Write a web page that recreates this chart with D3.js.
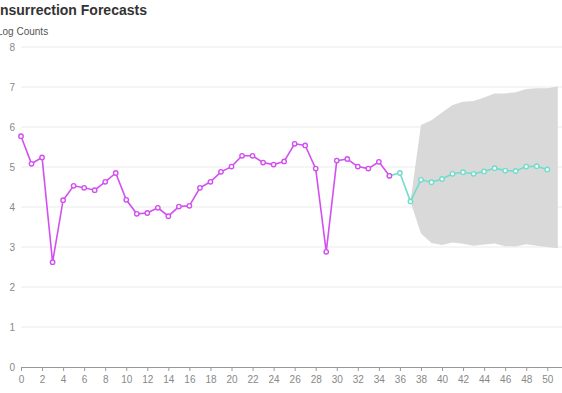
<!DOCTYPE html>
<html>
<head>
<meta charset="utf-8">
<script src="https://cdn.jsdelivr.net/npm/d3@7"></script>
<style>
  body { margin: 0; background: #fff; }
  svg { display: block; font-family: "Liberation Sans", Arial, sans-serif; }
</style>
</head>
<body>
<div id="chart"></div>
<script>
// observed log counts, x = 0..35
const histX = d3.range(0, 36);
const histY = [5.77, 5.08, 5.24, 2.62, 4.17, 4.53, 4.48, 4.42, 4.63, 4.85,
               4.18, 3.83, 3.85, 3.98, 3.77, 4.01, 4.03, 4.48, 4.63, 4.88,
               5.01, 5.28, 5.28, 5.11, 5.06, 5.14, 5.58, 5.54, 4.96, 2.88,
               5.16, 5.20, 5.01, 4.96, 5.13, 4.78];

// forecast, starting from the last observed point
const fcX = d3.range(35, 51);
const fcY = [4.78, 4.85, 4.14, 4.68, 4.62, 4.70, 4.83, 4.87, 4.83, 4.89,
             4.97, 4.91, 4.90, 5.01, 5.02, 4.94];

// forecast band
const bandX = d3.range(37, 52);
const bandLow = [4.14, 3.34, 3.10, 3.05, 3.11, 3.08, 3.03, 3.06, 3.09, 3.02,
                 3.01, 3.07, 3.03, 3.00, 2.97];
const bandHigh = [4.14, 6.05, 6.17, 6.36, 6.55, 6.63, 6.65, 6.74, 6.84, 6.84,
                  6.87, 6.95, 6.97, 6.97, 7.01];

const yTicks = [0, 1, 2, 3, 4, 5, 6, 7, 8];
const xTicks = d3.range(0, 51, 2);

const width = 562, height = 393;
const svg = d3.select("#chart").append("svg")
    .attr("width", width)
    .attr("height", height);

let x = d3.scaleLinear().domain([0, 51.4]).range([21, 562]);
let y = d3.scaleLinear().domain([0, 8]).range([367, 47]);

// title + axis name
svg.append("text")
    .attr("x", -4).attr("y", 15)
    .style("font-size", "14px").style("font-weight", "bold")
    .attr("fill", "#333")
    .text("Insurrection Forecasts");
svg.append("text")
    .attr("x", -3).attr("y", 35)
    .style("font-size", "10px")
    .attr("fill", "#555")
    .text("Log Counts");

// grid lines
svg.append("g").selectAll("line")
    .data(yTicks.filter(d => d > 0))
    .enter().append("line")
    .attr("x1", x(0)).attr("x2", width)
    .attr("y1", d => y(d)).attr("y2", d => y(d))
    .attr("stroke", "#ebebeb");

svg.append("g").selectAll("text")
    .data(yTicks)
    .enter().append("text")
    .attr("x", 15).attr("y", d => y(d) + 3.5)
    .attr("text-anchor", "end")
    .style("font-size", "10px")
    .attr("fill", "#888")
    .text(d => d);

// band
let band = bandX.map((d, i) => ({x: d, lo: bandLow[i], hi: bandHigh[i]}));
svg.append("path")
    .datum(band)
    .attr("fill", "#d9d9d9")
    .attr("d", d3.area().x(d => x(d.x)).y0(d => y(d.lo)).y1(d => y(d.hi)));

// x axis
let xAxis = svg.append("g")
    .attr("transform", `translate(0, ${y(0)})`)
    .call(d3.axisBottom(x).tickValues(xTicks).tickSize(4).tickSizeOuter(0));
xAxis.select(".domain").attr("stroke", "#999").attr("d", `M${x(0)},0.5H${width}`);
xAxis.selectAll(".tick line").attr("stroke", "#999").attr("y1", 0);
xAxis.selectAll("text")
    .attr("fill", "#888")
    .style("font-size", "10px")
    .style("font-family", "Liberation Sans, Arial, sans-serif")
    .attr("dy", "0.9em");

function drawSeries(xs, ys, color) {
    let pts = xs.map((d, i) => ({x: d, v: ys[i]}));
    svg.append("path")
        .datum(pts)
        .attr("fill", "none")
        .attr("stroke", color)
        .attr("stroke-width", 1.6)
        .attr("d", d3.line().x(d => x(d.x)).y(d => y(d.v)));
    svg.append("g").selectAll("circle")
        .data(pts)
        .enter().append("circle")
        .attr("cx", d => x(d.x)).attr("cy", d => y(d.v))
        .attr("r", 2.2)
        .attr("fill", "#fff")
        .attr("stroke", color)
        .attr("stroke-width", 1.4);
}

drawSeries(fcX, fcY, "#72dccb");
drawSeries(histX, histY, "#d24ff0");
</script>
</body>
</html>
